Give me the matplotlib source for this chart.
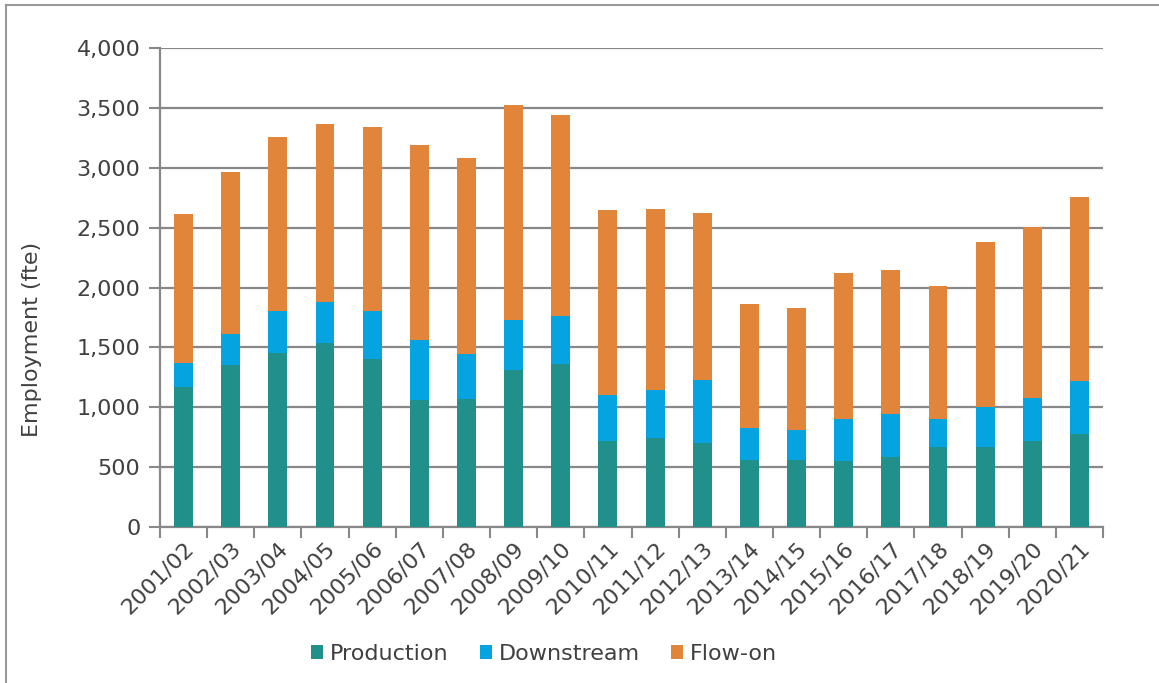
import matplotlib.pyplot as plt
import numpy as np
from matplotlib.lines import Line2D
from matplotlib.ticker import FuncFormatter, FixedLocator

years = ['2001/02', '2002/03', '2003/04', '2004/05', '2005/06', '2006/07', '2007/08',
         '2008/09', '2009/10', '2010/11', '2011/12', '2012/13', '2013/14', '2014/15',
         '2015/16', '2016/17', '2017/18', '2018/19', '2019/20', '2020/21']
production = [1168, 1353, 1453, 1534, 1403, 1057, 1068, 1311, 1361, 717,
              747, 700, 561, 561, 547, 583, 664, 667, 717, 773]
downstream = [204, 256, 352, 346, 399, 502, 377, 415, 404, 387,
              394, 524, 262, 245, 351, 362, 234, 331, 360, 443]
flow_on = [1241, 1356, 1455, 1484, 1542, 1629, 1634, 1794, 1674, 1540,
           1511, 1395, 1037, 1024, 1227, 1203, 1116, 1381, 1425, 1542]

c_prod = '#21908a'
c_down = '#05a3e0'
c_flow = '#e0853a'
grey = '#888888'
txt = '#404040'

plt.rcParams['font.family'] = 'DejaVu Sans'

fig = plt.figure(figsize=(11.59, 6.83), dpi=100)
ax = fig.add_axes([160 / 1159, 1 - 527 / 683, (1103 - 160) / 1159, (527 - 48) / 683])

x = np.arange(len(years))
w = 0.40
prod = np.array(production)
down = np.array(downstream)
flow = np.array(flow_on)

ax.bar(x, prod, w, color=c_prod, label='Production', zorder=3)
ax.bar(x, down, w, bottom=prod, color=c_down, label='Downstream', zorder=3)
ax.bar(x, flow, w, bottom=prod + down, color=c_flow, label='Flow-on', zorder=3)

ax.set_xlim(-0.5, len(years) - 0.5)
ax.set_ylim(0, 4000)
ax.set_yticks(np.arange(0, 4001, 500))
ax.yaxis.set_major_formatter(FuncFormatter(lambda v, p: f'{int(v):,}'))
ax.grid(axis='y', color=grey, linewidth=1.6, zorder=0)

# category labels at centres, tick marks at boundaries
ax.set_xticks(x)
ax.set_xticklabels(years, rotation=45, ha='right', rotation_mode='anchor',
                   fontsize=16, color=txt)
ax.tick_params(axis='x', length=0, pad=8)
ax.xaxis.set_minor_locator(FixedLocator(np.arange(-0.5, len(years), 1)))
ax.tick_params(axis='x', which='minor', length=8, width=1.5, color=grey, direction='out')
ax.tick_params(axis='y', length=8, width=1.5, color=grey, labelsize=16,
               labelcolor=txt, pad=6)

for s in ['top', 'right']:
    ax.spines[s].set_visible(False)
for s in ['left', 'bottom']:
    ax.spines[s].set_color(grey)
    ax.spines[s].set_linewidth(1.6)

ax.set_ylabel('Employment (fte)', fontsize=16, color=txt)
ax.yaxis.set_label_coords((42 - 160) / 943, (527 - 339) / 479)

ax.legend(loc='center', bbox_to_anchor=(544 / 1159, (683 - 654) / 683), bbox_transform=fig.transFigure,
          ncol=3, frameon=False, fontsize=16, labelcolor=txt, handlelength=0.55,
          handleheight=0.55, handletextpad=0.3, columnspacing=1.4)

# outer frame (left and top edges)
fig.add_artist(Line2D([6 / 1159, 6 / 1159], [0, 1 - 5 / 683], color='#999999', lw=1.5,
                      transform=fig.transFigure))
fig.add_artist(Line2D([6 / 1159, 1], [1 - 5 / 683, 1 - 5 / 683], color='#999999', lw=1.5,
                      transform=fig.transFigure))

fig.savefig('out.png', dpi=100)
plt.close()
